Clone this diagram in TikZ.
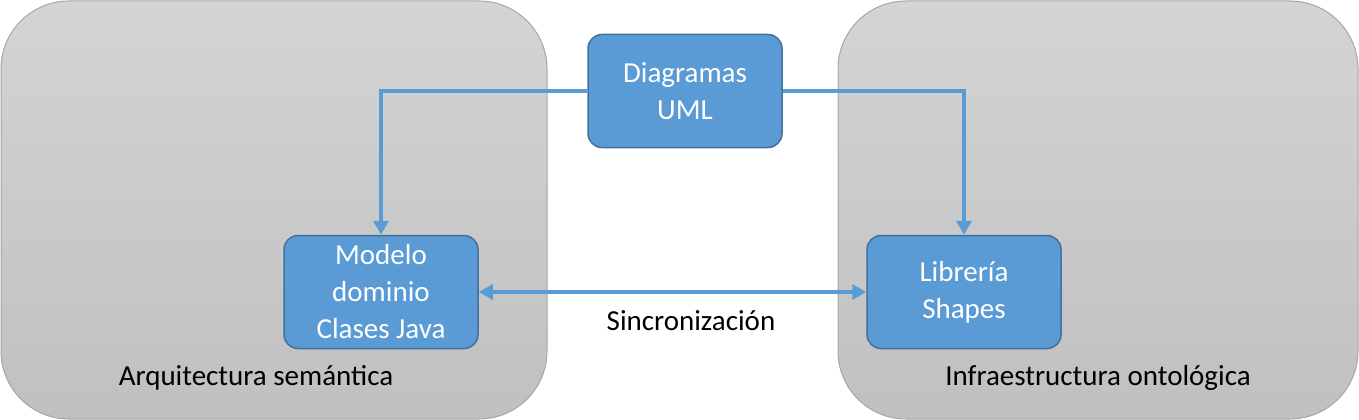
\documentclass[tikz,border=0pt]{standalone}
\usepackage{fontspec}
\setmainfont{Carlito}
\usetikzlibrary{positioning,arrows.meta}
\definecolor{boxblue}{HTML}{5B9BD5}
\definecolor{boxedge}{HTML}{41719C}
\definecolor{areatop}{HTML}{D4D4D4}
\definecolor{areabottom}{HTML}{C0C0C0}
\definecolor{areaedge}{HTML}{A6A6A6}

\begin{document}
\begin{tikzpicture}[
    x=1pt, y=-1pt,
    area/.style={draw=areaedge, line width=1pt, rounded corners=68pt, top color=areatop, bottom color=areabottom},
    block/.style={rectangle, draw=boxedge, fill=boxblue, line width=1.5pt, rounded corners=14pt,
        minimum width=194pt, minimum height=113pt, text=white, align=center, font=\fontsize{29}{37}\selectfont},
    link/.style={draw=boxblue, line width=4pt, -{Triangle[length=14pt,width=15pt]}},
    areatext/.style={font=\fontsize{29}{35}\selectfont}
]
    \useasboundingbox (0,0) rectangle (1359,420);

    % Areas
    \draw[area] (1,1) rectangle (547,419);
    \draw[area] (838,1) rectangle (1358,419);
    \node[areatext] (arq) at (256,378) {Arquitectura semántica};
    \node[areatext] (infra) at (1098,378) {Infraestructura ontológica};

    % Blocks
    \node[block] (uml) at (685,91) {Diagramas\\UML};
    \node[block] (modelo) at (381,292) {Modelo\\dominio\\Clases Java};
    \node[block] (libreria) at (964,292) {Librería\\Shapes};

    % Links
    \draw[link] (uml.west) -| (modelo.north);
    \draw[link] (uml.east) -| (libreria.north);
    \draw[link, {Triangle[length=14pt,width=15pt]}-{Triangle[length=14pt,width=15pt]}] (modelo.east) -- (libreria.west);
    \node[areatext] (sync) at (691,321) {Sincronización};
\end{tikzpicture}
\end{document}
